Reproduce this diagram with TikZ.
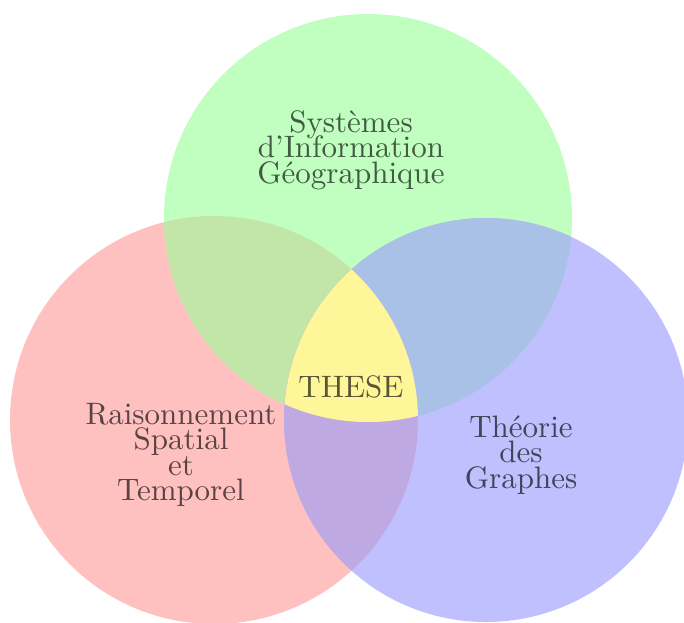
\documentclass[tikz,border=0pt]{standalone}
\usepackage{fontspec}
\usepackage{tikz}
\newfontfamily\lmten{lmroman10-regular}[Extension=.otf]
\definecolor{cR}{HTML}{FFC0C0}
\definecolor{cG}{HTML}{C0FFC0}
\definecolor{cB}{HTML}{C0C0FF}
\definecolor{cRG}{HTML}{C2E5A8}
\definecolor{cGB}{HTML}{A9C1E6}
\definecolor{cRB}{HTML}{BFA9E3}
\definecolor{cY}{HTML}{FFF599}
\newcommand\mylblfont{\lmten\fontsize{31}{25.5}\selectfont\lineskiplimit=-100pt\relax}
\begin{document}
\begin{tikzpicture}[x=1pt,y=-1pt,
  lbl/.style={inner sep=0pt, align=center, text=black, text opacity=0.65,
    font=\mylblfont}]
\useasboundingbox (0,0) rectangle (684,622);
\coordinate (R) at (214,420);
\coordinate (G) at (368,218);
\coordinate (B) at (486,420);
\def\rR{204}\def\rG{204}\def\rB{202}
\fill[cR] (R) circle (\rR);
\fill[cG] (G) circle (\rG);
\fill[cB] (B) circle (\rB);
\begin{scope}\clip (R) circle (\rR); \fill[cRG] (G) circle (\rG); \end{scope}
\begin{scope}\clip (G) circle (\rG); \fill[cGB] (B) circle (\rB); \end{scope}
\begin{scope}\clip (R) circle (\rR); \fill[cRB] (B) circle (\rB); \end{scope}
\begin{scope}\clip (R) circle (\rR); \clip (G) circle (\rG); \fill[cY] (B) circle (\rB); \end{scope}
\node[lbl] (sig) at (351,150) {Systèmes\\d’Information\\Géographique};
\node[lbl] (rst) at (181,455) {Raisonnement\\Spatial\\et\\Temporel};
\node[lbl] (tdg) at (521,455) {Théorie\\des\\Graphes};
\node[lbl] (these) at (351,387) {THESE};
\end{tikzpicture}
\end{document}
